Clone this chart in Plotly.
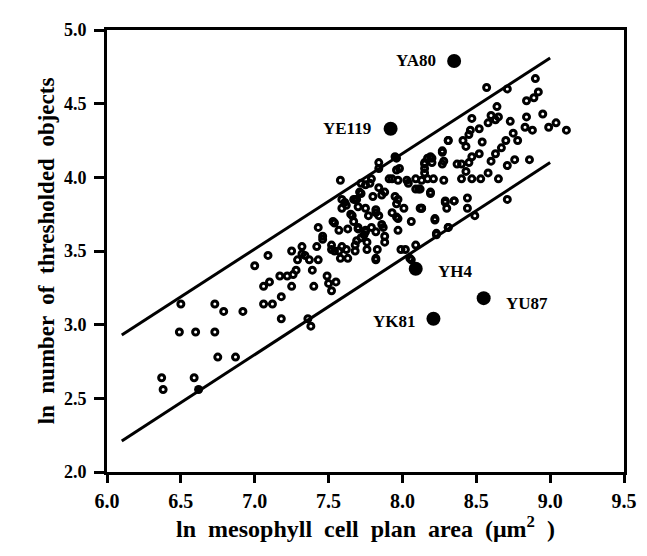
import plotly.graph_objects as go

# open-circle data points (ln area, ln objects)
open_x = [
    6.37, 6.38, 6.59, 6.49, 6.60, 6.73, 6.50, 6.73, 6.79, 6.92, 6.75, 6.87,
    7.00, 7.09, 7.06, 7.10, 7.06, 7.12, 7.18, 7.18, 7.17, 7.22, 7.25, 7.26, 7.28, 7.25, 7.29, 7.32, 7.34,
    7.36, 7.38,
    7.32, 7.37, 7.43, 7.39, 7.42, 7.40, 7.49, 7.50, 7.55, 7.52, 7.46, 7.43, 7.52, 7.57, 7.62, 7.58, 7.63,
    7.53, 7.57, 7.59, 7.61, 7.65, 7.63, 7.67, 7.69, 7.68, 7.69, 7.71, 7.75, 7.74, 7.76, 7.76, 7.75, 7.82,
    7.82, 7.78, 7.84, 7.88, 7.82, 7.84, 7.87, 7.88, 7.58, 7.84, 7.84, 7.96, 7.98, 7.93, 7.97, 8.03, 7.95,
    7.96, 8.01, 7.93, 7.96, 7.97, 8.06, 8.02, 8.09, 8.06, 8.09, 8.13, 8.19, 8.09, 8.13, 8.17, 8.15, 8.15,
    8.20, 8.27, 8.22, 8.23, 8.29,
    7.59, 7.62, 7.68, 7.72, 7.75, 7.66, 7.54, 7.46, 7.52, 7.54, 7.59, 7.68, 7.70, 7.75,
    7.99, 8.05, 7.82, 8.31, 8.35, 8.12, 8.11, 8.04, 7.91, 8.17, 8.20, 8.27, 8.31, 7.96, 7.95, 7.79, 7.72,
    7.67, 7.80, 7.86, 7.97, 7.97, 7.70, 7.77, 7.82, 7.70, 7.72, 7.79, 7.86, 7.88, 7.83,
    8.57, 8.71, 8.90, 8.92, 8.89, 8.84, 8.64, 8.47, 8.60, 8.65, 8.73, 8.84, 8.95, 8.83, 8.88, 8.99, 9.04,
    9.11, 8.31, 8.41, 8.46, 8.52, 8.58, 8.63, 8.54, 8.70, 8.75, 8.78, 8.67, 8.63, 8.60, 8.52, 8.47, 8.45,
    8.40, 8.37, 8.43, 8.40, 8.47, 8.53, 8.58, 8.65, 8.71, 8.76, 8.86, 8.71, 8.27, 8.28, 8.19, 8.15, 8.15,
    8.21, 8.28, 8.12, 8.19, 8.13, 8.29, 8.35, 8.30, 8.44, 8.44, 8.49, 8.22, 8.23, 8.31, 8.43, 8.45,
]
open_y = [
    2.64, 2.56, 2.64, 2.95, 2.95, 2.95, 3.14, 3.14, 3.09, 3.09, 2.78, 2.78,
    3.40, 3.47, 3.26, 3.29, 3.14, 3.14, 3.19, 3.04, 3.33, 3.33, 3.26, 3.34, 3.37, 3.50, 3.44, 3.53, 3.47,
    3.04, 2.99,
    3.48, 3.44, 3.44, 3.37, 3.53, 3.26, 3.33, 3.28, 3.29, 3.23, 3.60, 3.66, 3.51, 3.50, 3.51, 3.45, 3.45,
    3.70, 3.64, 3.79, 3.83, 3.75, 3.65, 3.70, 3.57, 3.50, 3.85, 3.90, 3.79, 3.61, 3.56, 3.51, 3.64, 3.63,
    3.44, 3.96, 3.93, 3.90, 3.76, 3.74, 3.66, 3.60, 3.98, 4.10, 4.06, 4.13, 4.06, 3.99, 3.98, 3.98, 3.87,
    3.82, 3.79, 3.76, 3.73, 3.64, 3.70, 3.51, 3.54, 3.44, 3.92, 3.79, 3.90, 3.99, 3.98, 3.99, 4.06, 4.10,
    4.13, 4.09, 3.71, 3.62, 3.83,
    3.85, 3.81, 3.85, 3.89, 3.95, 3.74, 3.69, 3.58, 3.54, 3.50, 3.53, 3.54, 3.65, 3.63,
    3.51, 3.45, 3.45, 3.66, 3.84, 3.79, 3.92, 3.96, 3.99, 4.13, 4.10, 4.17, 4.25, 4.05, 4.14, 3.99, 3.96,
    3.85, 3.87, 3.88, 3.85, 3.72, 3.80, 3.74, 3.78, 3.66, 3.59, 3.66, 3.68, 3.56, 3.51,
    4.61, 4.60, 4.67, 4.58, 4.54, 4.52, 4.48, 4.40, 4.42, 4.41, 4.38, 4.41, 4.43, 4.34, 4.32, 4.34, 4.37,
    4.32, 4.25, 4.25, 4.32, 4.33, 4.37, 4.39, 4.24, 4.25, 4.30, 4.25, 4.20, 4.16, 4.11, 4.16, 4.14, 4.10,
    4.09, 4.09, 4.04, 3.99, 3.99, 3.99, 4.03, 3.99, 4.08, 4.12, 4.12, 3.85, 4.18, 4.11, 4.14, 4.09, 4.03,
    3.99, 3.98, 3.92, 3.89, 3.79, 3.84, 3.84, 3.79, 3.86, 3.79, 3.74, 3.72, 3.61, 3.66, 4.21, 4.29,
]

# small filled point on the lower line
small_x = [6.62]
small_y = [2.56]

# labelled filled points
lab_names = ["YA80", "YE119", "YH4", "YU87", "YK81"]
lab_x = [8.35, 7.92, 8.09, 8.55, 8.21]
lab_y = [4.79, 4.33, 3.38, 3.18, 3.04]
lab_side = ["left", "left", "right", "right", "left"]

# bounding lines
line_x = [6.1, 9.0]
upper_y = [2.93, 4.81]
lower_y = [2.21, 4.10]

x_ticks = [6.0, 6.5, 7.0, 7.5, 8.0, 8.5, 9.0, 9.5]
y_ticks = [2.0, 2.5, 3.0, 3.5, 4.0, 4.5, 5.0]

SERIF = "Liberation Serif"

fig = go.Figure()
fig.add_trace(go.Scatter(x=line_x, y=upper_y, mode="lines",
                         line=dict(color="black", width=3), hoverinfo="skip"))
fig.add_trace(go.Scatter(x=line_x, y=lower_y, mode="lines",
                         line=dict(color="black", width=3), hoverinfo="skip"))
fig.add_trace(go.Scatter(x=open_x, y=open_y, mode="markers",
                         marker=dict(symbol="circle-open", size=6, color="black",
                                     line=dict(width=3, color="black"))))
fig.add_trace(go.Scatter(x=small_x, y=small_y, mode="markers",
                         marker=dict(symbol="circle", size=9, color="black")))
fig.add_trace(go.Scatter(x=lab_x, y=lab_y, mode="markers",
                         marker=dict(symbol="circle", size=14, color="black")))

shifts = {"YA80": (-16, 0), "YE119": (-18, 0), "YH4": (20, -3),
          "YU87": (20, -5), "YK81": (-15, -3)}
for n, x, y, s in zip(lab_names, lab_x, lab_y, lab_side):
    dx, dy = shifts[n]
    fig.add_annotation(x=x, y=y, text=n, showarrow=False,
                       xanchor="right" if s == "left" else "left",
                       xshift=dx, yshift=dy,
                       font=dict(family=SERIF, size=17, color="black", weight="bold"))

axis_common = dict(showgrid=False, zeroline=False, showline=True, linecolor="black",
                   linewidth=3, mirror=True, ticks="outside", tickcolor="black",
                   tickwidth=2.5)

fig.update_layout(
    width=647, height=556,
    margin=dict(l=99, r=31, t=15, b=92),
    paper_bgcolor="white", plot_bgcolor="white",
    showlegend=False,
    xaxis=dict(range=[6.0, 9.5], tickvals=x_ticks, ticktext=[f"{v:.1f}" for v in x_ticks],
               tickfont=dict(family=SERIF, size=20, color="black", weight="bold"),
               ticklen=8, ticklabelstandoff=1,
               title=dict(text="ln  mesophyll  cell  plan  area  (μm<sup>2</sup>  )",
                          font=dict(family=SERIF, size=24, color="black", weight="bold"),
                          standoff=10),
               **axis_common),
    yaxis=dict(range=[2.0, 5.0], tickvals=y_ticks, ticktext=[f"{v:.1f}" for v in y_ticks],
               tickfont=dict(family=SERIF, size=18, color="black", weight="bold"),
               ticklen=10, ticklabelstandoff=4,
               title=dict(text="ln  number  of  thresholded  objects",
                          font=dict(family=SERIF, size=23, color="black", weight="bold"),
                          standoff=3),
               **axis_common),
)

fig.write_html("out.html")
